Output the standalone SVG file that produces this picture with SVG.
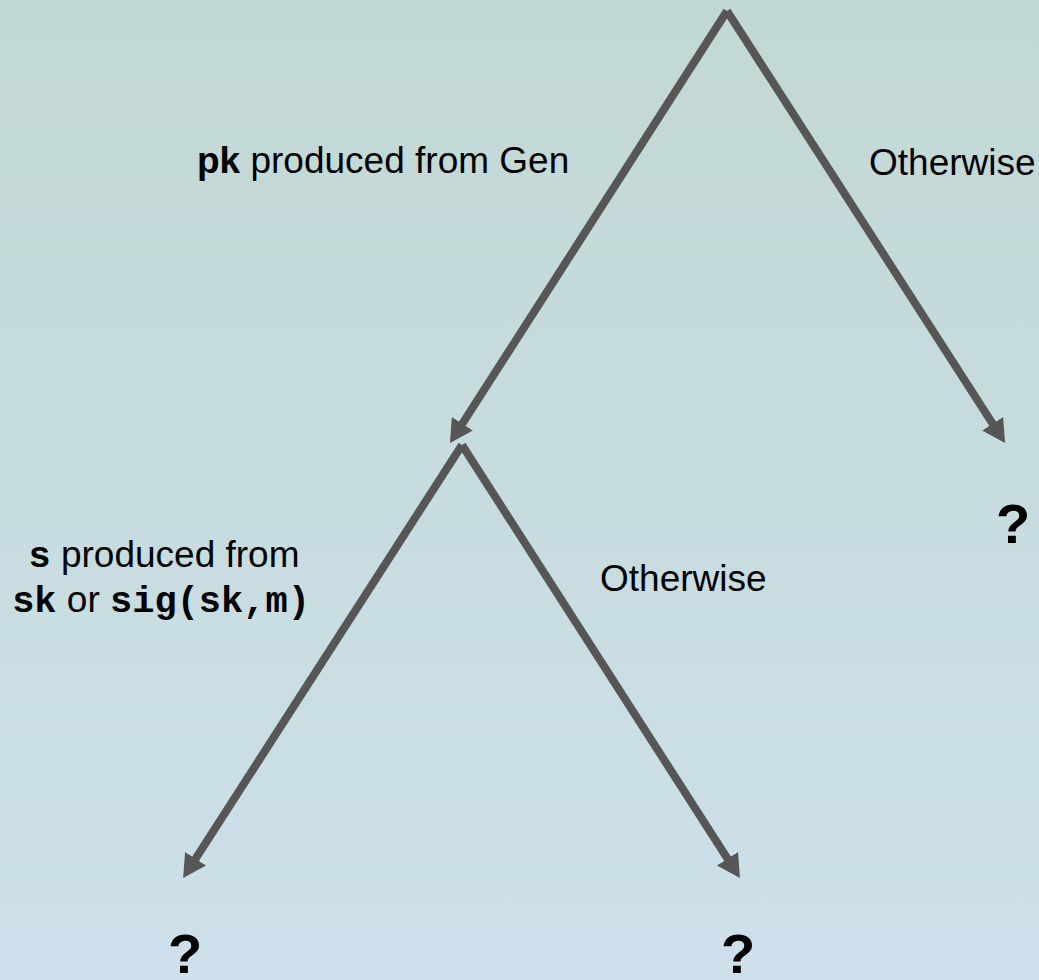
<svg xmlns="http://www.w3.org/2000/svg" width="1039" height="980" viewBox="0 0 1039 980">
  <defs>
    <linearGradient id="bg" x1="0" y1="0" x2="0" y2="1">
      <stop offset="0" stop-color="#c2d8d4"/>
      <stop offset="0.5" stop-color="#c7dcdf"/>
      <stop offset="1" stop-color="#cde0eb"/>
    </linearGradient>
    <marker id="head" markerUnits="userSpaceOnUse" markerWidth="23" markerHeight="25" viewBox="0 0 23 25" refX="2" refY="12.5" orient="auto">
      <path d="M0,0 L23,12.5 L0,25 z" fill="#565656"/>
    </marker>
    <style>
      .edge { stroke: #565656; stroke-width: 8; stroke-linecap: butt; fill: none; marker-end: url(#head); }
      .lbl { font-family: "Liberation Sans", Arial, sans-serif; font-size: 37px; fill: #000; }
      .b { font-weight: bold; }
      .mono { font-family: "Liberation Mono", "Courier New", monospace; font-weight: bold; }
      .q { font-family: "Liberation Sans", Arial, sans-serif; font-size: 56px; font-weight: bold; fill: #000; text-anchor: middle; }
    </style>
  </defs>

  <rect x="0" y="0" width="1039" height="980" fill="url(#bg)"/>

  <!-- branches -->
  <g id="connectors">
    <line class="edge" x1="727" y1="11" x2="461.3" y2="425.4"/>
    <line class="edge" x1="727" y1="11" x2="993.7" y2="425.4"/>
    <line class="edge" x1="462" y1="445" x2="194.5" y2="860.4"/>
    <line class="edge" x1="462" y1="445" x2="728.6" y2="860.4"/>
  </g>

  <!-- branch labels -->
  <g id="label-pk">
    <text class="lbl" x="197" y="173"><tspan class="b">pk</tspan> produced from Gen</text>
  </g>
  <g id="label-otherwise-top">
    <text class="lbl" x="869" y="175">Otherwise</text>
  </g>
  <g id="label-s">
    <text class="lbl" x="164" y="567" text-anchor="middle"><tspan class="mono">s</tspan> produced from</text>
    <text class="lbl" x="161" y="612" text-anchor="middle"><tspan class="mono">sk</tspan> or <tspan class="mono">sig(sk,m)</tspan></text>
  </g>
  <g id="label-otherwise-mid">
    <text class="lbl" x="600" y="591">Otherwise</text>
  </g>

  <!-- leaves -->
  <g id="leaf-right"><text class="q" x="1013" y="543">?</text></g>
  <g id="leaf-left"><text class="q" x="185" y="973">?</text></g>
  <g id="leaf-mid"><text class="q" x="738" y="973">?</text></g>
</svg>
